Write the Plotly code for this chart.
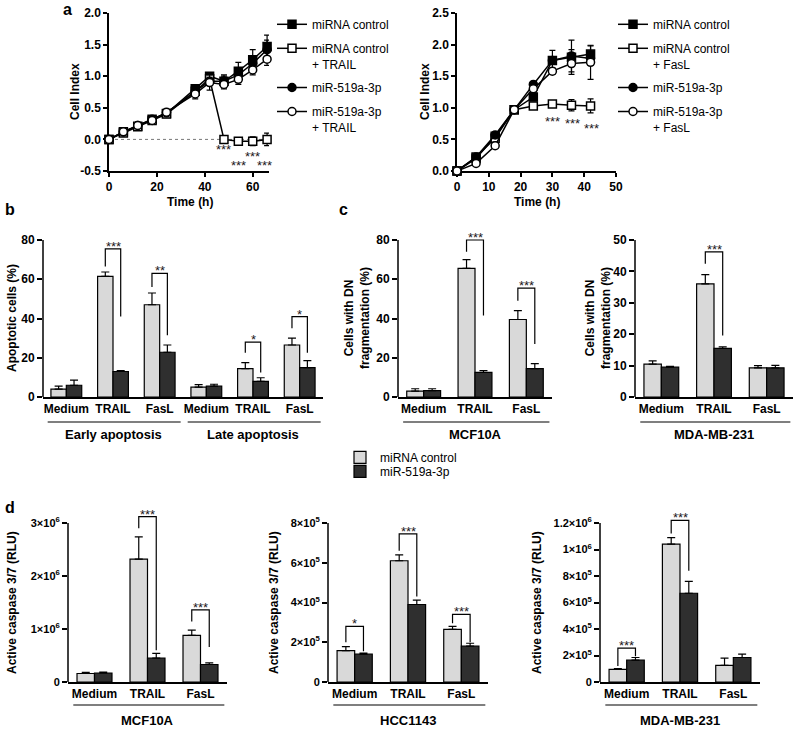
import plotly.graph_objects as go

W, H = 795, 729
FONT = "Liberation Sans"
LIGHT = "#d9d9d9"
DARK = "#2f2f2f"


def fx(p):
    return p / W


def fy(p):
    return 1 - p / H


# ---------------- data ----------------
# Panel a, left (TRAIL)
time_a1 = [0, 6, 12, 18, 24, 36, 42, 48, 54, 60, 66]
a1_ctrl = [0, 0.12, 0.21, 0.32, 0.41, 0.80, 1.00, 0.92, 1.08, 1.26, 1.47]
a1_ctrl_err = [0, 0.02, 0.02, 0.03, 0.03, 0.06, 0.05, 0.10, 0.14, 0.16, 0.18]
a1_ctrl_trail = [0, 0.10, 0.20, 0.30, 0.40, 0.76, 0.96, 0.0, -0.03, -0.03, 0.0]
a1_ctrl_trail_err = [0, 0.02, 0.02, 0.03, 0.03, 0.05, 0.05, 0.02, 0.03, 0.07, 0.10]
a1_mir = [0, 0.12, 0.22, 0.32, 0.42, 0.76, 0.92, 0.92, 1.02, 1.20, 1.42]
a1_mir_err = [0, 0.02, 0.02, 0.03, 0.03, 0.06, 0.06, 0.08, 0.10, 0.12, 0.15]
a1_mir_trail = [0, 0.12, 0.22, 0.30, 0.43, 0.72, 0.90, 0.87, 0.95, 1.10, 1.27]
a1_mir_trail_err = [0, 0.02, 0.02, 0.02, 0.03, 0.08, 0.12, 0.07, 0.08, 0.08, 0.10]
a1_star_x = [48, 54, 60, 65]
a1_star_y = [-0.12, -0.37, -0.22, -0.37]

# Panel a, right (FasL)
time_a2 = [0, 6, 12, 18, 24, 30, 36, 42]
a2_ctrl = [0, 0.20, 0.55, 0.97, 1.17, 1.75, 1.80, 1.85]
a2_ctrl_err = [0, 0.02, 0.03, 0.02, 0.04, 0.16, 0.27, 0.13]
a2_ctrl_fasl = [0, 0.22, 0.52, 0.97, 1.03, 1.06, 1.04, 1.03]
a2_ctrl_fasl_err = [0, 0.02, 0.02, 0.02, 0.03, 0.05, 0.09, 0.11]
a2_mir = [0, 0.22, 0.57, 0.97, 1.37, 1.75, 1.82, 1.78]
a2_mir_err = [0, 0.02, 0.03, 0.02, 0.04, 0.06, 0.10, 0.10]
a2_mir_fasl = [0, 0.12, 0.40, 0.97, 1.30, 1.58, 1.70, 1.72]
a2_mir_fasl_err = [0, 0.02, 0.02, 0.02, 0.04, 0.05, 0.13, 0.27]
a2_star_x = [30, 36.4, 42.4]
a2_star_y = [0.83, 0.80, 0.72]

# Panel b
cats_b = ["Medium", "TRAIL", "FasL", "Medium", "TRAIL", "FasL"]
b_ctrl = [4, 61.5, 47, 5, 14.5, 26.5]
b_ctrl_err = [1.5, 2.2, 6, 1.3, 3, 3.5]
b_mir = [6, 13, 22.8, 5.5, 8, 15]
b_mir_err = [2.6, 0.5, 3.7, 1, 1.8, 3.5]
b_sig_idx = [1, 2, 4, 5]
b_sig_left = [66.5, 56, 22.5, 35]
b_sig_top = [75.5, 63, 28, 41]
b_sig_right = [41, 31.5, 12.5, 22.5]
b_sig_txt = ["***", "**", "*", "*"]
b_yticks = [0, 20, 40, 60, 80]

# Panel c, left (MCF10A)
cats_3 = ["Medium", "TRAIL", "FasL"]
c1_ctrl = [3, 65.5, 39.5]
c1_ctrl_err = [1.2, 4.5, 4.5]
c1_mir = [3.2, 12.5, 14.5]
c1_mir_err = [1, 1, 2.5]
c1_sig_idx = [1, 2]
c1_sig_left = [74, 49]
c1_sig_top = [80, 55.5]
c1_sig_right = [41.5, 27]
c1_sig_txt = ["***", "***"]
c1_yticks = [0, 20, 40, 60, 80]

# Panel c, right (MDA-MB-231)
c2_ctrl = [10.5, 36, 9.3]
c2_ctrl_err = [1, 3, 0.7]
c2_mir = [9.5, 15.5, 9.3]
c2_mir_err = [0.3, 0.5, 0.8]
c2_sig_idx = [1]
c2_sig_left = [42.4]
c2_sig_top = [46.2]
c2_sig_right = [19.6]
c2_sig_txt = ["***"]
c2_yticks = [0, 10, 20, 30, 40, 50]

# Panel d, left (MCF10A)
d1_ctrl = [0.16e6, 2.32e6, 0.88e6]
d1_ctrl_err = [0.02e6, 0.42e6, 0.10e6]
d1_mir = [0.17e6, 0.45e6, 0.33e6]
d1_mir_err = [0.015e6, 0.09e6, 0.03e6]
d1_sig_idx = [1, 2]
d1_sig_left = [2.9e6, 1.14e6]
d1_sig_top = [3.12e6, 1.36e6]
d1_sig_right = [0.6e6, 0.66e6]
d1_sig_txt = ["***", "***"]
d1_yticks = [0, 1e6, 2e6, 3e6]
d1_yticktext = ["0", "1×10<sup>6</sup>", "2×10<sup>6</sup>", "3×10<sup>6</sup>"]

# Panel d, middle (HCC1143)
d2_ctrl = [1.58e5, 6.1e5, 2.65e5]
d2_ctrl_err = [0.2e5, 0.3e5, 0.15e5]
d2_mir = [1.4e5, 3.9e5, 1.8e5]
d2_mir_err = [0.05e5, 0.22e5, 0.15e5]
d2_sig_idx = [0, 1, 2]
d2_sig_left = [2.0e5, 6.6e5, 2.95e5]
d2_sig_top = [2.8e5, 7.45e5, 3.4e5]
d2_sig_right = [1.55e5, 4.3e5, 2.0e5]
d2_sig_txt = ["*", "***", "***"]
d2_yticks = [0, 2e5, 4e5, 6e5, 8e5]
d2_yticktext = ["0", "2×10<sup>5</sup>", "4×10<sup>5</sup>", "6×10<sup>5</sup>", "8×10<sup>5</sup>"]

# Panel d, right (MDA-MB-231)
d3_ctrl = [0.95e5, 1.04e6, 1.25e5]
d3_ctrl_err = [0.07e5, 0.05e6, 0.55e5]
d3_mir = [1.65e5, 6.7e5, 1.85e5]
d3_mir_err = [0.2e5, 0.9e5, 0.25e5]
d3_sig_idx = [0, 1]
d3_sig_left = [1.2e5, 1.12e6]
d3_sig_top = [2.55e5, 1.22e6]
d3_sig_right = [1.95e5, 0.84e6]
d3_sig_txt = ["***", "***"]
d3_yticks = [0, 2e5, 4e5, 6e5, 8e5, 1e6, 1.2e6]
d3_yticktext = ["0", "2×10<sup>5</sup>", "4×10<sup>5</sup>", "6×10<sup>5</sup>", "8×10<sup>5</sup>",
                "1×10<sup>6</sup>", "1.2×10<sup>6</sup>"]

legend_bar_names = ["miRNA control", "miR-519a-3p"]

# ---------------- figure ----------------
fig = go.Figure()
BARGAP = 0.34
annotations = []
shapes = []


def tfont(size=12, bold=True, color="black"):
    return dict(family=FONT, size=size, color=color, weight="bold" if bold else "normal")


STAR_FONT = tfont(13, False, "#1a1a1a")


def add_line_series(x, y, err, name, symbol, fill, xa, ya, legend):
    fig.add_trace(go.Scatter(
        x=x, y=y, mode="lines+markers", name=name,
        line=dict(color="black", width=1.5),
        marker=dict(symbol=symbol, size=8, color=fill, line=dict(color="black", width=1.5)),
        error_y=dict(type="data", array=err, visible=True, color="black", thickness=1.2, width=3),
        xaxis=xa, yaxis=ya, legend=legend, legendgroup=name + legend, cliponaxis=False))


# Panel a left
add_line_series(time_a1, a1_ctrl, a1_ctrl_err, "miRNA control", "square", "black", "x", "y", "legend")
add_line_series(time_a1, a1_ctrl_trail, a1_ctrl_trail_err, "miRNA control<br>+ TRAIL", "square", "white", "x", "y", "legend")
add_line_series(time_a1, a1_mir, a1_mir_err, "miR-519a-3p", "circle", "black", "x", "y", "legend")
add_line_series(time_a1, a1_mir_trail, a1_mir_trail_err, "miR-519a-3p<br>+ TRAIL", "circle", "white", "x", "y", "legend")
# Panel a right
add_line_series(time_a2, a2_ctrl, a2_ctrl_err, "miRNA control", "square", "black", "x2", "y2", "legend2")
add_line_series(time_a2, a2_ctrl_fasl, a2_ctrl_fasl_err, "miRNA control<br>+ FasL", "square", "white", "x2", "y2", "legend2")
add_line_series(time_a2, a2_mir, a2_mir_err, "miR-519a-3p", "circle", "black", "x2", "y2", "legend2")
add_line_series(time_a2, a2_mir_fasl, a2_mir_fasl_err, "miR-519a-3p<br>+ FasL", "circle", "white", "x2", "y2", "legend2")

for sx, sy in zip(a1_star_x, a1_star_y):
    annotations.append(dict(x=sx, y=sy, xref="x", yref="y", text="***", showarrow=False,
                            font=STAR_FONT, yanchor="middle", yshift=-3))
for sx, sy in zip(a2_star_x, a2_star_y):
    annotations.append(dict(x=sx, y=sy, xref="x2", yref="y2", text="***", showarrow=False,
                            font=STAR_FONT, yanchor="middle", yshift=-3))

shapes.append(dict(type="line", xref="x", yref="y", x0=0, x1=66, y0=0, y1=0,
                   line=dict(color="#777777", width=1, dash="dot"), layer="below"))

line_axis = dict(showline=True, linecolor="black", linewidth=1.5, ticks="outside", ticklen=4,
                 tickwidth=1.5, tickcolor="black", showgrid=False, zeroline=False, automargin=False,
                 tickfont=tfont(12), layer="below traces")

a1_yticks = [-0.5, 0, 0.5, 1.0, 1.5, 2.0]
a2_yticks = [0, 0.5, 1.0, 1.5, 2.0, 2.5]
layout_axes = {}
layout_axes["xaxis"] = dict(line_axis, domain=[fx(109), fx(269)], range=[0, 66.8],
                            tickvals=[0, 20, 40, 60], anchor="y")
layout_axes["yaxis"] = dict(line_axis, domain=[fy(171), fy(13)], range=[-0.5, 2.0],
                            tickvals=a1_yticks, ticktext=[f"{v:.1f}" for v in a1_yticks], anchor="x")
layout_axes["xaxis2"] = dict(line_axis, domain=[fx(457), fx(616)], range=[0, 50],
                             tickvals=[0, 10, 20, 30, 40, 50], anchor="y2")
layout_axes["yaxis2"] = dict(line_axis, domain=[fy(171), fy(13)], range=[0, 2.5],
                             tickvals=a2_yticks, ticktext=[f"{v:.1f}" for v in a2_yticks], anchor="x2")

# Bar panels
bar_panels = [
    dict(k=3, cats=cats_b, ctrl=b_ctrl, ce=b_ctrl_err, mir=b_mir, me=b_mir_err,
         si=b_sig_idx, sl=b_sig_left, st=b_sig_top, sr=b_sig_right, stx=b_sig_txt,
         xpx=(43, 323), zero=397, toppx=240, ticks=b_yticks, ticktext=None, tsize=12,
         groups=[(0, 2, "Early apoptosis"), (3, 5, "Late apoptosis")], gy=(422, 434), legend=True),
    dict(k=4, cats=cats_3, ctrl=c1_ctrl, ce=c1_ctrl_err, mir=c1_mir, me=c1_mir_err,
         si=c1_sig_idx, sl=c1_sig_left, st=c1_sig_top, sr=c1_sig_right, stx=c1_sig_txt,
         xpx=(398, 552), zero=397, toppx=240, ticks=c1_yticks, ticktext=None, tsize=12,
         groups=[(0, 2, "MCF10A")], gy=(422, 434), legend=False),
    dict(k=5, cats=cats_3, ctrl=c2_ctrl, ce=c2_ctrl_err, mir=c2_mir, me=c2_mir_err,
         si=c2_sig_idx, sl=c2_sig_left, st=c2_sig_top, sr=c2_sig_right, stx=c2_sig_txt,
         xpx=(635, 793), zero=397, toppx=240, ticks=c2_yticks, ticktext=None, tsize=12,
         groups=[(0, 2, "MDA-MB-231")], gy=(422, 434), legend=False),
    dict(k=6, cats=cats_3, ctrl=d1_ctrl, ce=d1_ctrl_err, mir=d1_mir, me=d1_mir_err,
         si=d1_sig_idx, sl=d1_sig_left, st=d1_sig_top, sr=d1_sig_right, stx=d1_sig_txt,
         xpx=(68, 227), zero=682, toppx=523, ticks=d1_yticks, ticktext=d1_yticktext, tsize=11,
         groups=[(0, 2, "MCF10A")], gy=(705, 720), legend=False),
    dict(k=7, cats=cats_3, ctrl=d2_ctrl, ce=d2_ctrl_err, mir=d2_mir, me=d2_mir_err,
         si=d2_sig_idx, sl=d2_sig_left, st=d2_sig_top, sr=d2_sig_right, stx=d2_sig_txt,
         xpx=(328, 488), zero=682, toppx=523, ticks=d2_yticks, ticktext=d2_yticktext, tsize=11,
         groups=[(0, 2, "HCC1143")], gy=(705, 720), legend=False),
    dict(k=8, cats=cats_3, ctrl=d3_ctrl, ce=d3_ctrl_err, mir=d3_mir, me=d3_mir_err,
         si=d3_sig_idx, sl=d3_sig_left, st=d3_sig_top, sr=d3_sig_right, stx=d3_sig_txt,
         xpx=(600, 760), zero=682, toppx=523, ticks=d3_yticks, ticktext=d3_yticktext, tsize=11,
         groups=[(0, 2, "MDA-MB-231")], gy=(705, 720), legend=False),
]

half = (1 - BARGAP) / 4
for p in bar_panels:
    k = p["k"]
    xa, ya = f"x{k}", f"y{k}"
    xs = list(range(len(p["cats"])))
    for vals, errs, col, name, leg in [(p["ctrl"], p["ce"], LIGHT, legend_bar_names[0], "legend3"),
                                       (p["mir"], p["me"], DARK, legend_bar_names[1], "legend4")]:
        fig.add_trace(go.Bar(
            x=xs, y=vals, name=name, marker=dict(color=col, line=dict(color="black", width=1.2)),
            error_y=dict(type="data", array=errs, arrayminus=[0] * len(errs), symmetric=False,
                         visible=True, color="black", thickness=1.2, width=4),
            xaxis=xa, yaxis=ya, legend=leg, showlegend=p["legend"]))
    top_tick = p["ticks"][-1]
    range_top = top_tick * 1.07
    s = (p["zero"] - p["toppx"]) / top_tick
    top_px = p["zero"] - range_top * s
    layout_axes[f"xaxis{k}"] = dict(domain=[fx(p["xpx"][0]), fx(p["xpx"][1])], range=[-0.5, len(xs) - 0.5],
                                    tickvals=xs, ticktext=p["cats"], showline=True, linecolor="black",
                                    linewidth=1.5, ticks="", showgrid=False, zeroline=False,
                                    automargin=False, tickfont=tfont(12), anchor=ya)
    layout_axes[f"yaxis{k}"] = dict(domain=[fy(p["zero"]), fy(top_px)], range=[0, range_top],
                                    tickvals=p["ticks"],
                                    ticktext=p["ticktext"] if p["ticktext"] else [str(v) for v in p["ticks"]],
                                    showline=False, ticks="outside", ticklen=5, tickwidth=1.5,
                                    tickcolor="black", showgrid=False, zeroline=False, automargin=False,
                                    tickfont=tfont(p["tsize"]), anchor=xa)
    shapes.append(dict(type="line", xref=f"{xa} domain", yref=ya, x0=0, x1=0, y0=0, y1=top_tick,
                       line=dict(color="black", width=1.5)))
    for i, lo_l, top, lo_r, txt in zip(p["si"], p["sl"], p["st"], p["sr"], p["stx"]):
        shapes.append(dict(type="path", xref=xa, yref=ya,
                           path=f"M {i - half},{lo_l} L {i - half},{top} L {i + half},{top} L {i + half},{lo_r}",
                           line=dict(color="black", width=1.2)))
        annotations.append(dict(x=i, y=top, xref=xa, yref=ya, text=txt, showarrow=False,
                                font=STAR_FONT, yanchor="bottom", yshift=-7))
    for g0, g1, gname in p["groups"]:
        shapes.append(dict(type="line", xref=xa, yref="paper", x0=g0 - 0.4, x1=g1 + 0.45,
                           y0=fy(p["gy"][0]), y1=fy(p["gy"][0]), line=dict(color="black", width=1.2)))
        annotations.append(dict(x=(g0 + g1) / 2, y=fy(p["gy"][1]), xref=xa, yref="paper", text=gname,
                                showarrow=False, font=tfont(13), yanchor="middle"))


# Axis titles and panel letters
def ptext(x, y, text, size=12, bold=True, angle=0, xanchor="center"):
    annotations.append(dict(x=fx(x), y=fy(y), xref="paper", yref="paper", text=text, showarrow=False,
                            font=tfont(size, bold), textangle=angle, xanchor=xanchor, yanchor="middle"))


ptext(75, 92, "Cell Index", angle=-90)
ptext(425, 92, "Cell Index", angle=-90)
ptext(190, 202, "Time (h)")
ptext(537, 202, "Time (h)")
ptext(12, 318, "Apoptotic cells (%)", angle=-90)
ptext(357, 318, "Cells with DN<br>fragmentation (%)", angle=-90)
ptext(598, 318, "Cells with DN<br>fragmentation (%)", angle=-90)
ptext(12, 603, "Active caspase 3/7 (RLU)", angle=-90)
ptext(274, 603, "Active caspase 3/7 (RLU)", angle=-90)
ptext(537, 603, "Active caspase 3/7 (RLU)", angle=-90)
ptext(61, 9, "a", size=16, xanchor="left")
ptext(3, 209, "b", size=16, xanchor="left")
ptext(337, 209, "c", size=16, xanchor="left")
ptext(3, 507, "d", size=16, xanchor="left")

leg_common = dict(xanchor="left", yanchor="top", bgcolor="rgba(0,0,0,0)", valign="top",
                  font=dict(family=FONT, size=12, color="black"), tracegroupgap=5, borderwidth=0)

fig.update_layout(
    template="none",
    width=W, height=H, margin=dict(l=0, r=0, t=0, b=0, pad=0, autoexpand=False),
    paper_bgcolor="white", plot_bgcolor="white",
    font=dict(family=FONT, color="black"),
    barmode="group", bargap=BARGAP, bargroupgap=0,
    shapes=shapes, annotations=annotations,
    legend=dict(leg_common, x=fx(272), y=fy(10)),
    legend2=dict(leg_common, x=fx(613), y=fy(10)),
    legend3=dict(leg_common, x=fx(340), y=fy(443)),
    legend4=dict(leg_common, x=fx(340), y=fy(457)),
    **layout_axes,
)

fig.write_html("out.html", config={"displayModeBar": False},
               post_script="document.body.style.margin='0px';document.body.style.padding='0px';")
